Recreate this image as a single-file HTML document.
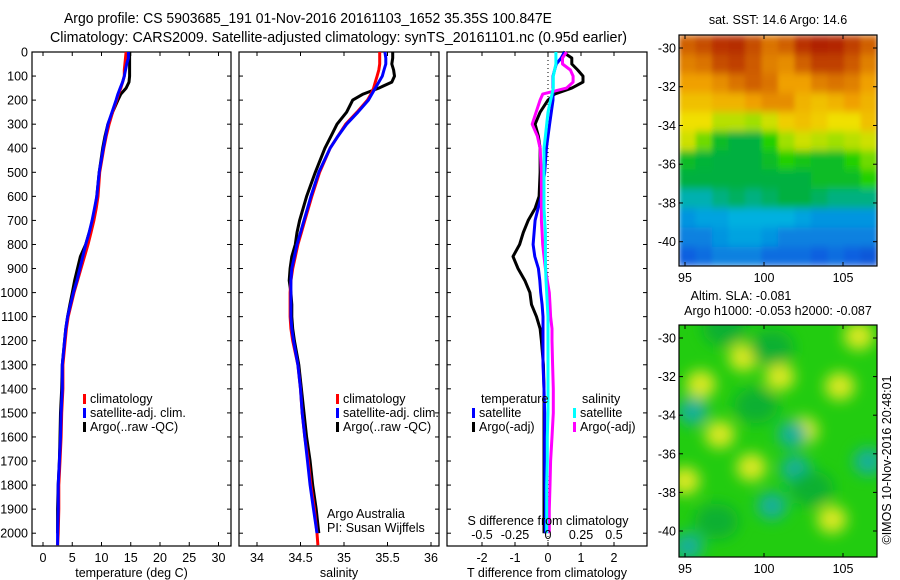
<!DOCTYPE html>
<html><head><meta charset="utf-8">
<style>
html,body{margin:0;padding:0;background:#fff;}
svg{display:block;font-family:"Liberation Sans",sans-serif;}
text{fill:#000;}
</style></head>
<body>
<svg id="fig" width="900" height="580" viewBox="0 0 900 580" xmlns="http://www.w3.org/2000/svg">
<text x="64" y="23" font-size="14.5" textLength="488" lengthAdjust="spacingAndGlyphs">Argo profile: CS 5903685_191 01-Nov-2016 20161103_1652 35.35S 100.847E</text>
<text x="50" y="42" font-size="14.5" textLength="577" lengthAdjust="spacingAndGlyphs">Climatology: CARS2009. Satellite-adjusted climatology: synTS_20161101.nc (0.95d earlier)</text>
<text transform="translate(891,460) rotate(-90)" font-size="12.5" text-anchor="middle">©IMOS 10-Nov-2016 20:48:01</text>
</svg>
<script>
// ---- data ----
const depths = [0,25,50,75,100,125,150,175,200,250,300,350,400,500,600,650,700,750,800,850,900,950,1000,1050,1100,1150,1200,1300,1400,1500,1600,1700,1800,1900,2000,2050];
const tempClim = [14.2,14.1,14.0,13.9,13.9,13.6,13.3,12.9,12.6,11.9,11.3,10.8,10.4,9.7,9.4,9.1,8.7,8.2,7.7,7.1,6.5,5.9,5.3,4.8,4.3,4.0,3.8,3.4,3.4,3.2,3.1,2.9,2.7,2.7,2.6,2.5];
const tempSat  = [14.6,14.6,14.3,14.1,13.9,13.6,13.2,12.8,12.5,11.8,11.1,10.7,10.3,9.6,9.2,8.8,8.4,7.9,7.3,6.8,6.3,5.8,5.2,4.7,4.2,3.9,3.7,3.3,3.3,3.1,3.0,2.8,2.6,2.6,2.5,2.5];
const tempArgo = [14.8,14.8,14.8,14.8,14.8,14.7,14.2,13.3,12.8,11.9,11.1,10.6,10.2,9.6,9.2,8.9,8.5,7.9,7.3,6.4,5.9,5.4,5.0,4.6,4.2,3.9,3.7,3.3,3.2,3.0,2.9,2.8,2.6,2.5,2.5,null];
const salClim = [35.41,35.41,35.41,35.40,35.38,35.36,35.34,35.31,35.27,35.15,35.02,34.93,34.84,34.72,34.63,34.59,34.55,34.51,34.47,34.44,34.41,34.39,34.38,34.38,34.38,34.39,34.41,34.47,34.50,34.52,34.55,34.59,34.62,34.66,34.69,34.70];
const salSat  = [35.47,35.48,35.48,35.46,35.44,35.40,35.36,35.32,35.28,35.16,35.03,34.93,34.84,34.71,34.62,34.58,34.54,34.50,34.46,34.43,34.40,34.39,34.39,34.39,34.39,34.40,34.42,34.47,34.50,34.52,34.55,34.58,34.61,34.65,34.69,null];
const salArgo = [35.56,35.56,35.55,35.57,35.58,35.55,35.40,35.22,35.10,35.03,34.92,34.85,34.78,34.67,34.57,34.53,34.49,34.46,34.44,34.40,34.38,34.37,34.39,34.40,34.40,34.41,34.43,34.48,34.51,34.54,34.57,34.61,34.64,34.68,34.71,null];
const dTsat  = [0.5,0.4,0.25,0.2,0.15,0.15,0.15,0.15,0.15,0.1,0.05,0.0,-0.05,-0.1,-0.2,-0.3,-0.39,-0.42,-0.45,-0.4,-0.29,-0.25,-0.22,-0.18,-0.15,-0.15,-0.15,-0.15,-0.12,-0.1,-0.1,-0.1,-0.09,-0.08,-0.08,null];
const dTargo = [0.45,0.72,0.72,0.9,1.06,1.06,0.72,0.2,0.0,-0.24,-0.39,-0.29,-0.24,-0.24,-0.27,-0.39,-0.6,-0.75,-0.86,-1.06,-0.91,-0.7,-0.55,-0.5,-0.35,-0.24,-0.2,-0.14,-0.12,-0.12,-0.12,-0.12,-0.12,-0.12,-0.12,null];
const dSsat  = [0.06,0.06,0.06,0.05,0.04,0.04,0.04,0.03,0.02,0.0,-0.01,-0.02,-0.03,-0.03,-0.03,-0.03,-0.025,-0.02,-0.02,-0.02,-0.018,-0.015,-0.01,-0.005,0.0,0.0,0.0,0.0,0.0,0.0,-0.005,-0.005,-0.01,-0.01,-0.01,null];
const dSargo = [0.14,0.11,0.11,0.17,0.19,0.19,0.14,-0.04,-0.06,-0.09,-0.12,-0.08,-0.06,-0.05,-0.05,-0.05,-0.05,-0.045,-0.04,-0.03,-0.02,-0.005,0.01,0.015,0.02,0.03,0.03,0.035,0.04,0.04,0.03,0.02,0.015,0.01,0.01,null];
const depthTicks = [0,100,200,300,400,500,600,700,800,900,1000,1100,1200,1300,1400,1500,1600,1700,1800,1900,2000];
const tempTicks = [0,5,10,15,20,25,30];
const salTicks = [34,34.5,35,35.5,36];
const salTickLabels = ["34","34.5","35","35.5","36"];
const dTTicks = [-2,-1,0,1,2];
const dSTicks = [-0.5,-0.25,0,0.25,0.5];
const dSTickLabels = ["-0.5","-0.25","0","0.25","0.5"];
const mapLats = [-30,-32,-34,-36,-38,-40];
const mapLons = [95,100,105];
// SST map grid (colour index 0..1), rows north->south, cols west->east
const sstGrid = [
[0.85,0.88,0.92,0.93,0.88,0.82,0.85,0.92,0.95,0.94,0.9,0.85],
[0.8,0.82,0.88,0.9,0.86,0.8,0.78,0.85,0.9,0.9,0.86,0.8],
[0.75,0.75,0.78,0.82,0.85,0.82,0.75,0.75,0.8,0.82,0.8,0.75],
[0.7,0.7,0.72,0.72,0.75,0.78,0.78,0.72,0.7,0.72,0.75,0.72],
[0.65,0.65,0.6,0.6,0.58,0.62,0.68,0.7,0.68,0.65,0.65,0.7],
[0.62,0.55,0.45,0.42,0.42,0.5,0.58,0.62,0.6,0.58,0.6,0.62],
[0.45,0.43,0.42,0.42,0.42,0.45,0.5,0.47,0.45,0.45,0.5,0.55],
[0.42,0.42,0.42,0.42,0.42,0.42,0.42,0.42,0.45,0.45,0.45,0.5],
[0.35,0.35,0.38,0.4,0.38,0.4,0.42,0.42,0.4,0.38,0.38,0.38],
[0.28,0.3,0.3,0.32,0.32,0.32,0.32,0.3,0.28,0.28,0.28,0.28],
[0.25,0.25,0.28,0.3,0.3,0.28,0.25,0.25,0.25,0.25,0.25,0.25],
[0.2,0.22,0.25,0.25,0.25,0.22,0.22,0.22,0.2,0.22,0.2,0.18]];
// SLA blobs: lon, lat, type (1 = high/yellow, -1 = low/cyan, 0 = dark green)
const slaLon = [98.7,101.0,106.0,95.0,104.3,99.2,102.5,104.8,96.0,97.2,95.5,101.8,106.6,100.5,102.0,95.2,97.5,100.5,99.5,97,103];
const slaLat = [-31.0,-32.0,-29.9,-37.4,-39.4,-36.7,-34.8,-32.5,-32.4,-35.0,-33.8,-35.0,-36.4,-38.7,-36.8,-40.8,-29.5,-30.5,-33.5,-39.5,-37.8];
const slaType = [1,1,1,1,1,1,1,1,1,1,-1,-1,-1,-1,-1,-1,0,0,0,0,0];

const NS='http://www.w3.org/2000/svg';
const svg=document.getElementById('fig');
function mk(tag,attrs,parent){const e=document.createElementNS(NS,tag);for(const k in attrs)e.setAttribute(k,attrs[k]);(parent||svg).appendChild(e);return e;}
function txt(x,y,s,size,anchor,parent){const t=mk('text',{x:x,y:y,'font-size':size||12,'text-anchor':anchor||'start'},parent);t.textContent=s;return t;}

const Y0=52, PXD=0.2406;
const yD=d=>Y0+d*PXD;
const BOT=546;
const xT=v=>43+v*5.85;
const xS=v=>257+(v-34)*87;
const xdT=v=>548+v*33;
const xdS=v=>548+v*132;

function linePath(xs,xf){let d='';let started=false;for(let i=0;i<depths.length;i++){if(xs[i]==null)continue;const x=xf(xs[i]).toFixed(1);const y=yD(depths[i]).toFixed(1);d+=(started?' L':'M')+x+' '+y;started=true;}return d;}

function panel(name,x0,x1,xticks,xf,xlabels,xtitle){
  const g=mk('g',{});
  
  
  mk('rect',{x:x0,y:Y0,width:x1-x0,height:BOT-Y0,fill:'none',stroke:'#000','stroke-width':1.2},g);
  depthTicks.forEach(d=>{mk('line',{x1:x0,x2:x0+4,y1:yD(d),y2:yD(d),stroke:'#000'},g);mk('line',{x1:x1-4,x2:x1,y1:yD(d),y2:yD(d),stroke:'#000'},g);});
  xticks.forEach((v,i)=>{const x=xf(v);mk('line',{x1:x,x2:x,y1:Y0,y2:Y0+4,stroke:'#000'},g);mk('line',{x1:x,x2:x,y1:BOT-4,y2:BOT,stroke:'#000'},g);
    const t=txt(x,562,xlabels[i],12.5,'middle',g);});
  const tt=txt((x0+x1)/2,577,xtitle,12.5,'middle',g);
  
  
  return g;
}
function line(g,d,color,name){const p=mk('path',{d:d,fill:'none',stroke:color,'stroke-width':3,'stroke-linejoin':'round'},g);return p;}
function legend(g,x,y,color,label){const r=mk('rect',{x:x,y:y-9,width:3,height:10,fill:color},g);const t=txt(x+7,y,label,12.5,'start',g);}

depthTicks.forEach(d=>{const t=txt(28,yD(d)+4.5,String(d),12.5,'end');});

const g1=panel('temperature-panel',32,231,tempTicks,xT,tempTicks.map(String),'temperature (deg C)');
line(g1,linePath(tempArgo,xT),'#000','argo-temperature-line');
line(g1,linePath(tempClim,xT),'#f00','climatology-temperature-line');
line(g1,linePath(tempSat,xT),'#00f','satellite-temperature-line');
legend(g1,83,403,'#f00','climatology');legend(g1,83,417,'#00f','satellite-adj. clim.');legend(g1,83,431,'#000','Argo(..raw -QC)');

const g2=panel('salinity-panel',239,439,salTicks,xS,salTickLabels,'salinity');
line(g2,linePath(salArgo,xS),'#000','argo-salinity-line');
line(g2,linePath(salClim,xS),'#f00','climatology-salinity-line');
line(g2,linePath(salSat,xS),'#00f','satellite-salinity-line');
legend(g2,336,403,'#f00','climatology');legend(g2,336,417,'#00f','satellite-adj. clim.');legend(g2,336,431,'#000','Argo(..raw -QC)');
{const a=txt(327,518,'Argo Australia',12.5,'start',g2);
 const b=txt(327,532,'PI: Susan Wijffels',12.5,'start',g2);}

const g3=panel('difference-panel',447,647,dTTicks,xdT,dTTicks.map(String),'T difference from climatology');
mk('line',{x1:548,x2:548,y1:Y0,y2:BOT,stroke:'#000','stroke-dasharray':'1,3'},g3);
line(g3,linePath(dTargo,xdT),'#000','argo-temperature-diff-line');
line(g3,linePath(dTsat,xdT),'#00f','satellite-temperature-diff-line');
line(g3,linePath(dSargo,xdS),'#f0f','argo-salinity-diff-line');
line(g3,linePath(dSsat,xdS),'#0ff','satellite-salinity-diff-line');
txt(481,403,'temperature',12.5,'start',g3);txt(582,403,'salinity',12.5,'start',g3);
legend(g3,472,417,'#00f','satellite');legend(g3,472,431,'#000','Argo(-adj)');
legend(g3,573,417,'#0ff','satellite');legend(g3,573,431,'#f0f','Argo(-adj)');
{const t=txt(548,525,'S difference from climatology',12.5,'middle',g3);}
dSTicks.forEach((v,i)=>{const t=txt(xdS(v),539,dSTickLabels[i],12.5,'middle',g3);});

const cStops=[[0,[0,24,150]],[0.2,[16,96,224]],[0.32,[0,176,224]],[0.42,[0,176,64]],[0.5,[32,208,0]],[0.58,[160,224,0]],[0.65,[240,224,0]],[0.75,[240,160,0]],[0.85,[208,96,0]],[1,[160,0,0]]];
function cmap(v){v=Math.max(0,Math.min(1,v));for(let i=1;i<cStops.length;i++){if(v<=cStops[i][0]){const a=cStops[i-1],b=cStops[i];const f=(v-a[0])/(b[0]-a[0]);const c=a[1].map((q,k)=>Math.round(q+(b[1][k]-q)*f));return 'rgb('+c.join(',')+')';}}return 'rgb(160,0,0)';}

function mapAxes(g,x0,y0,x1,y1,latY,lonX){
  mk('rect',{x:x0,y:y0,width:x1-x0,height:y1-y0,fill:'none',stroke:'#000','stroke-width':1.2},g);
  mapLats.forEach(l=>{const y=latY(l);mk('line',{x1:x0,x2:x0+4,y1:y,y2:y,stroke:'#000'},g);mk('line',{x1:x1-4,x2:x1,y1:y,y2:y,stroke:'#000'},g);const t=txt(x0-3,y+4.5,String(l),12.5,'end',g);});
  mapLons.forEach(l=>{const x=lonX(l);mk('line',{x1:x,x2:x,y1:y0,y2:y0+4,stroke:'#000'},g);mk('line',{x1:x,x2:x,y1:y1-4,y2:y1,stroke:'#000'},g);const t=txt(x,y1+16,String(l),12.5,'middle',g);});
}

const defs=mk('defs',{});
{const f=mk('filter',{id:'sblur',x:'0',y:'0',width:'100%',height:'100%'},defs);mk('feGaussianBlur',{stdDeviation:'2.5 4',edgeMode:'duplicate'},f);}
{const f=mk('filter',{id:'blur',x:'-80%',y:'-80%',width:'260%',height:'260%'},defs);mk('feGaussianBlur',{stdDeviation:7},f);}

// SST map
{const g=mk('g',{});
 const x0=679,x1=877,y0=35,y1=266;
 const cp=mk('clipPath',{id:'sstclip'},defs);mk('rect',{x:x0,y:y0,width:x1-x0,height:y1-y0},cp);
 const inner=mk('g',{'clip-path':'url(#sstclip)'},g);
 const cells=mk('g',{filter:'url(#sblur)'},inner);
 const rows=sstGrid.length,cols=sstGrid[0].length,cw=(x1-x0)/cols,ch=(y1-y0)/rows;
 sstGrid.forEach((row,r)=>row.forEach((v,c)=>{const cell=mk('rect',{x:x0+c*cw,y:y0+r*ch,width:cw+0.6,height:ch+0.6,fill:cmap(v)},cells);}));
 mapAxes(g,x0,y0,x1,y1,l=>48+(-30-l)*19.37,l=>685+(l-95)*15.8);
 const t=txt(778,24,'sat. SST: 14.6 Argo: 14.6',12.5,'middle',g);
}
// SLA map
{const g=mk('g',{});
 const x0=679,x1=877,y0=325,y1=557;
 const latY=l=>338+(-30-l)*19.3, lonX=l=>685+(l-95)*15.8;
 const cp=mk('clipPath',{id:'slaclip'},defs);mk('rect',{x:x0,y:y0,width:x1-x0,height:y1-y0},cp);
 mk('rect',{x:x0,y:y0,width:x1-x0,height:y1-y0,fill:'#22cc10'},g);
 const inner=mk('g',{'clip-path':'url(#slaclip)'},g);
 const bl=mk('g',{filter:'url(#blur)'},inner);
 slaLon.forEach((lo,i)=>{const col=slaType[i]>0?'#d8e820':(slaType[i]<0?'#18b098':'#08b030');const c=mk('ellipse',{cx:lonX(lo),cy:latY(slaLat[i]),rx:slaType[i]===0?22:15,ry:slaType[i]===0?18:14,fill:col},bl);});
 mapAxes(g,x0,y0,x1,y1,latY,lonX);
 const t1=txt(741,300,'Altim. SLA: -0.081',12.5,'middle',g);
 const t2=txt(778,315,'Argo h1000: -0.053 h2000: -0.087',12.5,'middle',g);
}
</script>
</body></html>
